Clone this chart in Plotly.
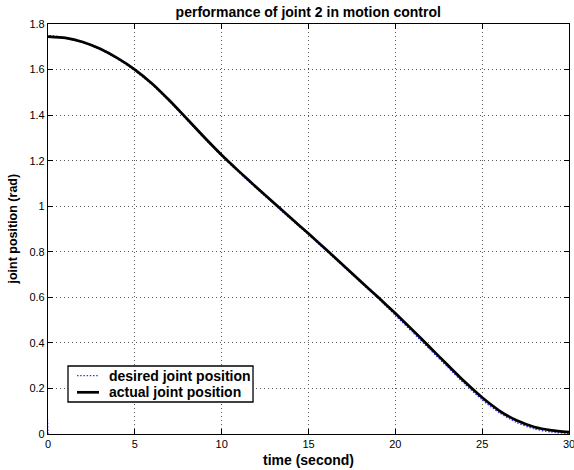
import plotly.graph_objects as go

# time (second)
time_s = [0, 1, 2, 3, 4, 5, 6, 7, 8, 9, 10, 11, 12, 13, 14, 15,
          16, 17, 18, 19, 20, 21, 22, 23, 24, 25, 26, 27, 28, 29, 30]

# actual joint position (rad)
actual_pos = [1.745, 1.739, 1.721, 1.691, 1.650, 1.600, 1.538, 1.464, 1.384,
              1.303, 1.225, 1.153, 1.083, 1.015, 0.947, 0.880, 0.811, 0.741,
              0.671, 0.601, 0.530, 0.456, 0.380, 0.304, 0.229, 0.160, 0.102,
              0.059, 0.031, 0.016, 0.008]

# desired joint position (rad); starts with a jump from 0 at t=0
desired_time = [0, 0, 1, 2, 3, 4, 5, 6, 7, 8, 9, 10, 11, 12, 13, 14, 15,
                16, 17, 18, 19, 20, 21, 22, 23, 24, 25, 26, 27, 28, 29, 30]
desired_pos = [0.0, 1.745, 1.737, 1.719, 1.689, 1.647, 1.595, 1.533, 1.459,
               1.379, 1.298, 1.220, 1.148, 1.078, 1.010, 0.942, 0.875, 0.806,
               0.736, 0.666, 0.596, 0.521, 0.446, 0.370, 0.294, 0.219, 0.150,
               0.092, 0.050, 0.022, 0.008, 0.002]

x_ticks = [0, 5, 10, 15, 20, 25, 30]
y_ticks = [0, 0.2, 0.4, 0.6, 0.8, 1.0, 1.2, 1.4, 1.6, 1.8]

series_names = ["desired joint position", "actual joint position"]
series_colors = ["#3333ff", "black"]

FONT = "Liberation Sans, Arial, Helvetica, sans-serif"
BLUE_DASH = "1.5px,1.7px"

fig = go.Figure()
fig.add_trace(go.Scatter(
    x=desired_time, y=desired_pos, mode="lines", name=series_names[0],
    line=dict(color=series_colors[0], width=1.3, dash=BLUE_DASH,
              shape="spline", smoothing=0.6),
    showlegend=False,
))
fig.add_trace(go.Scatter(
    x=time_s, y=actual_pos, mode="lines", name=series_names[1],
    line=dict(color=series_colors[1], width=2.7, shape="spline", smoothing=0.6),
    showlegend=False,
))

axis_common = dict(
    showline=True, linecolor="black", linewidth=1.2, mirror="ticks",
    ticks="inside", ticklen=5, tickcolor="black", tickwidth=1,
    showgrid=True, gridcolor="#555555", griddash="1px,3px", gridwidth=1,
    zeroline=False, automargin=False, ticklabeloverflow="allow",
    tickfont=dict(family=FONT, size=11, color="black"),
)

fig.update_layout(
    width=574, height=470,
    margin=dict(l=48, r=5, t=24, b=36),
    paper_bgcolor="white", plot_bgcolor="white",
    title=dict(text="<b>performance of joint 2 in motion control</b>",
               x=0.537, xanchor="center", y=0.975, yanchor="middle",
               font=dict(family=FONT, size=14, color="black")),
    xaxis=dict(range=[0, 30], tickvals=x_ticks, **axis_common),
    yaxis=dict(range=[0, 1.8], tickvals=y_ticks,
               ticktext=[f"{v:g}" for v in y_ticks], **axis_common),
    showlegend=False,
)

# axis titles
fig.add_annotation(text="<b>time (second)</b>", xref="paper", yref="paper",
                   x=0.5, y=-0.0634, xanchor="center", yanchor="middle",
                   showarrow=False, font=dict(family=FONT, size=14, color="black"))
fig.add_annotation(text="<b>joint position (rad)</b>", xref="paper", yref="paper",
                   x=-0.068, y=0.5, xanchor="center", yanchor="middle",
                   textangle=-90, showarrow=False,
                   font=dict(family=FONT, size=12.5, color="black"))

# legend box (MATLAB style)
lx0, lx1, ly0, ly1 = 0.0384, 0.3935, 0.078, 0.1659
fig.add_shape(type="rect", xref="paper", yref="paper",
              x0=lx0, x1=lx1, y0=ly0, y1=ly1,
              line=dict(color="black", width=1.3), fillcolor="white", layer="above")
row_y = [0.1422, 0.1017]
sample_dash = [BLUE_DASH, "solid"]
sample_w = [1.3, 2.7]
for name, col, yy, dsh, w in zip(series_names, series_colors, row_y, sample_dash, sample_w):
    fig.add_shape(type="line", xref="paper", yref="paper",
                  x0=0.0557, x1=0.0979, y0=yy, y1=yy,
                  line=dict(color=col, width=w, dash=dsh), layer="above")
    fig.add_annotation(text="<b>" + name + "</b>", xref="paper", yref="paper",
                       x=0.1132, y=yy, xanchor="left", yanchor="middle",
                       showarrow=False, font=dict(family=FONT, size=14, color="black"))

fig.write_html("out.html",
               config={"displayModeBar": False},
               post_script="document.body.style.margin='0';"
                           "document.body.style.padding='0';"
                           "document.documentElement.style.overflow='hidden';")
